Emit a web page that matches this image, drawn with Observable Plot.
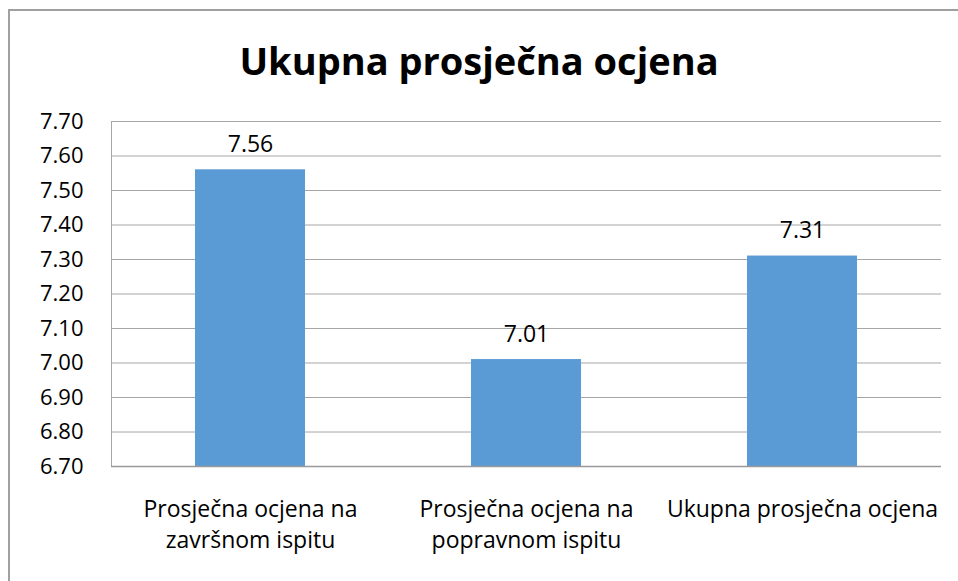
<!DOCTYPE html>
<html>
<head>
<meta charset="utf-8">
<script src="https://cdn.jsdelivr.net/npm/d3@7"></script>
<script src="https://cdn.jsdelivr.net/npm/@observablehq/plot@0.6"></script>
<style>
  html, body { margin: 0; padding: 0; background: #fff; width: 958px; height: 581px; overflow: hidden; }
  #frame { position: absolute; left: 8px; top: 9px; width: 2000px; height: 2000px;
           border-left: 2px solid #a0a0a0; border-top: 2px solid #a0a0a0; box-sizing: border-box; }
  #title { position: absolute; left: 0; top: 41px; width: 958px; text-align: center;
           font-family: "Open Sans", sans-serif; font-weight: 700; font-size: 38px; line-height: 38px; color: #000; }
  #chart { position: absolute; left: 0; top: 100px; }
</style>
</head>
<body>
<div id="frame"></div>
<div id="title">Ukupna prosječna ocjena</div>
<div id="chart"></div>
<script>
const categories = [
  "Prosječna ocjena na završnom ispitu",
  "Prosječna ocjena na popravnom ispitu",
  "Ukupna prosječna ocjena"
];
const tickLabels = [
  "Prosječna ocjena na\nzavršnom ispitu",
  "Prosječna ocjena na\npopravnom ispitu",
  "Ukupna prosječna ocjena"
];
const values = [7.56, 7.01, 7.31];
const valueLabels = ["7.56", "7.01", "7.31"];
const yDomain = [6.7, 7.7];
const yTicks = [6.7, 6.8, 6.9, 7.0, 7.1, 7.2, 7.3, 7.4, 7.5, 7.6, 7.7];

const data = categories.map((c, i) => ({category: c, value: values[i], label: valueLabels[i]}));
const labelOf = new Map(categories.map((c, i) => [c, tickLabels[i]]));

const chart = Plot.plot({
  width: 958,
  height: 481,
  marginLeft: 111,
  marginRight: 17,
  marginTop: 21,
  marginBottom: 115,
  style: {fontFamily: "'Open Sans', sans-serif", color: "#000", background: "transparent"},
  x: {domain: categories, padding: 0, label: null},
  y: {domain: yDomain, label: null},
  marks: [
    Plot.ruleY(yTicks, {stroke: "#a6a6a6", strokeWidth: 1}),
    Plot.frame({anchor: "left", stroke: "#a6a6a6", strokeWidth: 1}),
    Plot.barY(data, {x: "category", y1: () => yDomain[0], y2: "value", fill: "#5b9bd5", insetLeft: 83, insetRight: 83}),
    Plot.ruleY([yDomain[0]], {stroke: "#999", strokeWidth: 1.5}),
    Plot.text(data, {x: "category", y: "value", text: "label", lineAnchor: "bottom", dy: -18, fontSize: 23, fill: "#000"}),
    Plot.axisY({ticks: yTicks, tickFormat: d3.format(".2f"), tickSize: 0, tickPadding: 28, fontSize: 22, label: null}),
    Plot.axisX({tickSize: 0, tickPadding: 28, fontSize: 23, lineHeight: 1.36, tickFormat: d => labelOf.get(d), label: null})
  ]
});
document.getElementById("chart").appendChild(chart);
</script>
</body>
</html>
